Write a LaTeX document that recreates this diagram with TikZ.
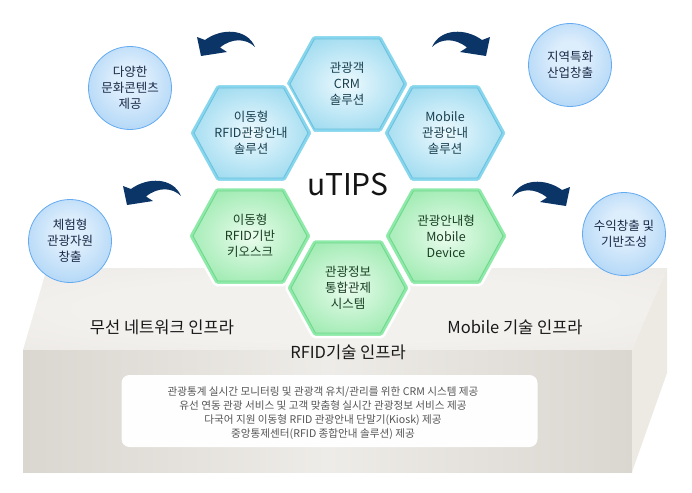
\documentclass[tikz,border=0pt]{standalone}
\usepackage{fontspec}
\setmainfont{Noto Sans CJK KR}
\usetikzlibrary{calc}
\definecolor{hexBborder}{HTML}{86D6EE}
\definecolor{hexBrim}{HTML}{6CC2DE}
\definecolor{hexBin}{HTML}{F0FAFD}
\definecolor{hexBin2}{HTML}{D8F1FA}
\definecolor{hexBmid}{HTML}{9CDAEF}
\definecolor{hexBout}{HTML}{78C6E2}
\definecolor{hexGborder}{HTML}{8EEAA8}
\definecolor{hexGrim}{HTML}{70D88E}
\definecolor{hexGin}{HTML}{EEFCF0}
\definecolor{hexGin2}{HTML}{D4F7DC}
\definecolor{hexGmid}{HTML}{9CEAAF}
\definecolor{hexGout}{HTML}{7ADB95}
\definecolor{cirin}{HTML}{DCEDFC}
\definecolor{cirmid}{HTML}{ACD4F6}
\definecolor{cirout}{HTML}{92C4F2}
\definecolor{cirdraw}{HTML}{63AAF0}
\definecolor{arrowblue}{HTML}{0B3566}
\definecolor{plTop}{HTML}{E8E5E0}
\definecolor{plTopL}{HTML}{F3F1EE}
\definecolor{plFrontD}{HTML}{DAD6D0}
\definecolor{plFrontL}{HTML}{EEECE8}
\definecolor{plRight}{HTML}{EDEAE4}
\definecolor{txtB}{HTML}{173F4F}
\definecolor{txtG}{HTML}{193F23}
\definecolor{txtC}{HTML}{1A2946}
\definecolor{txtInfo}{HTML}{555555}
\pgfdeclareradialshading{hexBshade}{\pgfpoint{0bp}{0bp}}{color(0bp)=(hexBin); color(8bp)=(hexBin2); color(30bp)=(hexBmid); color(44bp)=(hexBout); color(50bp)=(hexBout)}
\pgfdeclareradialshading{hexGshade}{\pgfpoint{0bp}{0bp}}{color(0bp)=(hexGin); color(8bp)=(hexGin2); color(30bp)=(hexGmid); color(44bp)=(hexGout); color(50bp)=(hexGout)}
\pgfdeclareradialshading{bubbleshade}{\pgfpoint{0bp}{6bp}}{color(0bp)=(cirin); color(10bp)=(cirin); color(32bp)=(cirmid); color(50bp)=(cirout)}
\pgfdeclareradialshading{topshade}{\pgfpoint{0bp}{0bp}}{color(0bp)=(plTopL); color(20bp)=(plTopL); color(50bp)=(plTop)}
\pgfdeclarelayer{bg}
\pgfsetlayers{bg,main}
\newcommand\hexshape[4]{%
  \fill[#2,draw=white,line width=2.5pt,rounded corners=2pt] ($(#1.center)+(-62,0)$) -- ($(#1.center)+(-35,-49)$) -- ($(#1.center)+(35,-49)$) -- ($(#1.center)+(62,0)$) -- ($(#1.center)+(35,49)$) -- ($(#1.center)+(-35,49)$) -- cycle;
  \shade[shading=#3,draw=#4,line width=0.9pt] ($(#1.center)+(-57,0)$) -- ($(#1.center)+(-32.5,-45)$) -- ($(#1.center)+(32.5,-45)$) -- ($(#1.center)+(57,0)$) -- ($(#1.center)+(32.5,45)$) -- ($(#1.center)+(-32.5,45)$) -- cycle;}
\begin{document}
\begin{tikzpicture}[x=1pt,y=-1pt,
  hextxt/.style={align=center,font=\fontsize{12.5}{16}\selectfont,inner sep=0pt},
  btxt/.style={hextxt,text=txtB},
  gtxt/.style={hextxt,text=txtG},
  bubble/.style={circle,minimum size=83pt,inner sep=0pt,align=center,shading=bubbleshade,draw=cirdraw,line width=0.8pt,text=txtC,font=\fontsize{12.5}{16}\selectfont},
  platlabel/.style={font=\fontsize{16.5}{19}\selectfont,text=black!90,inner sep=0pt},
  carrow/.pic={\fill[arrowblue] (58,17) .. controls (50,-2) and (24,-2) .. (8,10) -- (0,7) -- (4,26) -- (30,22) -- (23,17.5) .. controls (36,7) and (50,9) .. (58,17) -- cycle;}
]
\useasboundingbox (0,0) rectangle (692,492);
% platform
\begin{pgfonlayer}{bg}
\shade[shading=topshade] (47,268) -- (667,268) -- (632,350) -- (23,350) -- cycle;
\shade[left color=plFrontD,right color=plFrontD,middle color=plFrontL] (23,350) rectangle (632,472);
\fill[plRight] (632,350) -- (667,268) -- (667,373) -- (632,472) -- cycle;
\end{pgfonlayer}
\node[draw=none,fill=white!97!plTop,rounded corners=8pt,minimum width=416pt,minimum height=72pt] (info) at (329.5,411) {};
\node[align=center,text=txtInfo,font=\fontsize{10.6}{14}\selectfont,inner sep=0pt] (infotext) at (323,413) {관광통계 실시간 모니터링 및 관광객 유치/관리를 위한 CRM 시스템 제공\\유선 연동 관광 서비스 및 고객 맞춤형 실시간 관광정보 서비스 제공\\다국어 지원 이동형 RFID 관광안내 단말기(Kiosk) 제공\\중앙통제센터(RFID 종합안내 솔루션) 제공};
\node[platlabel] (lwl) at (162,327) {무선 네트워크 인프라};
\node[platlabel] (lmob) at (515,327) {Mobile 기술 인프라};
\node[platlabel] (lrfid) at (348,352) {RFID기술 인프라};
% hexagons
\node[btxt] (hcrm) at (347,84) {관광객\\CRM\\솔루션};
\node[btxt] (hrfid) at (251,133) {이동형\\RFID관광안내\\솔루션};
\node[btxt] (hmob) at (445,133) {Mobile\\관광안내\\솔루션};
\node[gtxt] (hkiosk) at (250,236) {이동형\\RFID기반\\키오스크};
\node[gtxt] (hdev) at (446,236) {관광안내형\\Mobile\\Device};
\node[gtxt] (hctrl) at (348,288) {관광정보\\통합관제\\시스템};
\begin{pgfonlayer}{bg}
\hexshape{hcrm}{hexBborder}{hexBshade}{hexBrim}
\hexshape{hrfid}{hexBborder}{hexBshade}{hexBrim}
\hexshape{hmob}{hexBborder}{hexBshade}{hexBrim}
\hexshape{hkiosk}{hexGborder}{hexGshade}{hexGrim}
\hexshape{hdev}{hexGborder}{hexGshade}{hexGrim}
\hexshape{hctrl}{hexGborder}{hexGshade}{hexGrim}
\end{pgfonlayer}
\node[font=\fontsize{30}{32}\selectfont,text=black!92,inner sep=0pt] (utips) at (348,185) {uTIPS};
% bubbles
\node[bubble] (c1) at (130,88) {다양한\\문화콘텐츠\\제공};
\node[bubble] (c2) at (70,241) {체험형\\관광자원\\창출};
\node[bubble] (c3) at (570,65) {지역특화\\산업창출};
\node[bubble] (c4) at (624,234) {수익창출 및\\기반조성};
% arrows
\pic at (197,30) {carrow};
\pic at (123,179) {carrow};
\pic[xscale=-1] at (490,30) {carrow};
\pic[xscale=-1] at (570,180) {carrow};
\end{tikzpicture}
\end{document}
